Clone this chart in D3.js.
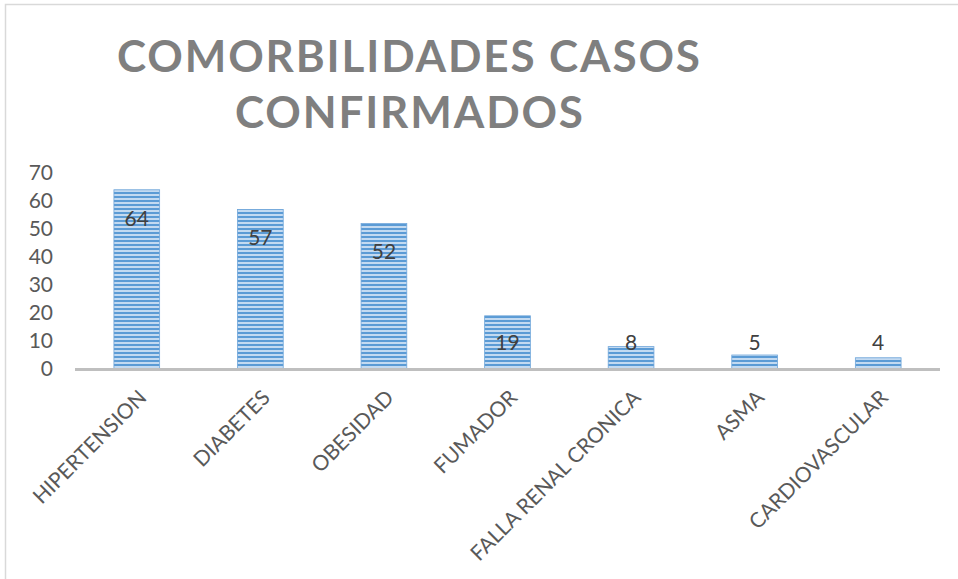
<!DOCTYPE html>
<html>
<head>
<meta charset="utf-8">
<script src="https://cdn.jsdelivr.net/npm/d3@7"></script>
<style>
  body { margin: 0; background: #fff; }
</style>
</head>
<body>
<script>
// chart data
var categories = ["HIPERTENSION", "DIABETES", "OBESIDAD", "FUMADOR", "FALLA RENAL CRONICA", "ASMA", "CARDIOVASCULAR"];
var values = [64, 57, 52, 19, 8, 5, 4];
var yTicks = [0, 10, 20, 30, 40, 50, 60, 70];
var titleLines = ["COMORBILIDADES CASOS", "CONFIRMADOS"];

var w = 958, h = 579;
var font = "Lato, 'Open Sans', sans-serif";

var svg = d3.select("body").append("svg")
  .attr("width", w)
  .attr("height", h);

// outer chart border (only top and left visible)
svg.append("rect")
  .attr("x", 5.5).attr("y", 4.5)
  .attr("width", 1200).attr("height", 1200)
  .attr("fill", "#fff")
  .attr("stroke", "#d9d9d9")
  .attr("stroke-width", 1.5);

// stripe pattern for the bars
var defs = svg.append("defs");
var pat = defs.append("pattern")
  .attr("id", "stripes")
  .attr("patternUnits", "userSpaceOnUse")
  .attr("width", 8).attr("height", 4);
pat.append("rect").attr("width", 8).attr("height", 4).attr("fill", "#c3daf1");
pat.append("rect").attr("width", 8).attr("height", 2).attr("fill", "#5b9bd5");

// title
svg.selectAll("text.title")
  .data(titleLines)
  .enter()
  .append("text")
  .attr("class", "title")
  .attr("x", function(d, i) { return i == 0 ? 117 : 235; })
  .attr("y", function(d, i) { return 72 + i * 56; })
  .attr("textLength", function(d, i) { return i == 0 ? 583 : 348; })
  .attr("lengthAdjust", "spacing")
  .attr("font-family", font)
  .attr("font-weight", "bold")
  .attr("font-size", 44)
  .attr("fill", "#7f7f7f")
  .text(function(d) { return d; });

var x = d3.scaleBand()
  .domain(categories)
  .range([75, 940])
  .paddingInner(0.63)
  .paddingOuter(0.315);

var y = d3.scaleLinear()
  .domain([0, 70])
  .range([369, 173]);

// y axis labels
var yAxis = svg.append("g")
  .attr("transform", "translate(53,0)")
  .call(d3.axisLeft(y).tickValues(yTicks).tickSize(0).tickPadding(0));
yAxis.select(".domain").remove();
yAxis.selectAll("text")
  .attr("font-family", font)
  .attr("font-size", 21)
  .attr("fill", "#595959");

// bars
svg.selectAll("rect.bar")
  .data(values)
  .enter()
  .append("rect")
  .attr("class", "bar")
  .attr("x", function(d, i) { return x(categories[i]); })
  .attr("y", function(d) { return y(d); })
  .attr("width", x.bandwidth())
  .attr("height", function(d) { return y(0) - y(d); })
  .attr("fill", "url(#stripes)")
  .attr("stroke", "#6fa6da")
  .attr("stroke-width", 0.8);

// baseline
svg.append("line")
  .attr("x1", 75).attr("x2", 940)
  .attr("y1", y(0) + 0.5).attr("y2", y(0) + 0.5)
  .attr("stroke", "#bfbfbf")
  .attr("stroke-width", 3);

// data labels
svg.selectAll("text.val")
  .data(values)
  .enter()
  .append("text")
  .attr("class", "val")
  .attr("x", function(d, i) { return x(categories[i]) + x.bandwidth() / 2; })
  .attr("y", function(d) { return Math.min(y(d) + 36, y(0) - 19); })
  .attr("text-anchor", "middle")
  .attr("font-family", font)
  .attr("font-size", 21)
  .attr("fill", "#404040")
  .text(function(d) { return d; });

// category labels
svg.selectAll("text.cat")
  .data(categories)
  .enter()
  .append("text")
  .attr("class", "cat")
  .attr("text-anchor", "end")
  .attr("transform", function(d) {
    var cx = x(d) + x.bandwidth() / 2 + 11;
    return "translate(" + cx + ",399) rotate(-45)";
  })
  .attr("font-family", font)
  .attr("font-size", 21)
  .attr("fill", "#595959")
  .text(function(d) { return d; });
</script>
</body>
</html>
